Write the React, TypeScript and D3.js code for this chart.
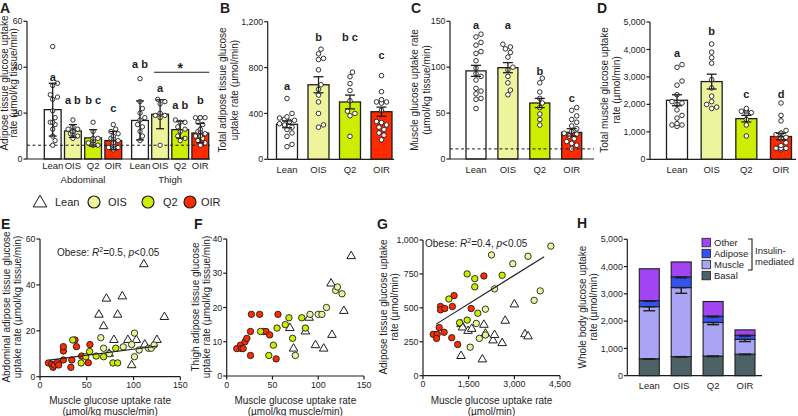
import React from "react";
import * as d3 from "d3";

const FONT = "'Liberation Sans', Arial, Helvetica, sans-serif";
const INK = "#1e1e1e";
const TICK_FS = 8.8;
const CAT_FS = 9.5;
const TITLE_FS = 10;
const groups = ["Lean", "OIS", "Q2", "OIR"];
const groupFill: Record<string, string> = { Lean: "#ffffff", OIS: "#eef49c", Q2: "#cdee00", OIR: "#ff2a00" };

// ---------- Panel A ----------
const aRegions = ["Abdominal", "Thigh"];
const aAbdMean = [21.5, 12.2, 9.2, 8.0];
const aAbdSD = [11.5, 2.8, 3.6, 4.0];
const aThighMean = [16.8, 19.5, 12.8, 11.3];
const aThighSD = [8.5, 6.3, 3.7, 4.2];
const aAbdPoints = [
  [49, 33, 32, 28, 27, 26, 21, 18, 16, 16, 15, 13, 10, 8, 6],
  [17, 14, 13, 13, 12, 12, 12, 11, 11, 10, 9],
  [16, 12, 9, 9, 8, 8, 7, 7, 6, 6],
  [15, 13, 12, 11, 10, 9, 9, 8, 7, 7, 6, 6, 5, 5, 5, 4],
];
const aThighPoints = [
  [35, 25, 22, 20, 18, 17, 15, 14, 12, 10, 8],
  [26, 25, 24, 20, 19, 19, 18, 6],
  [17, 16, 16, 14, 13, 12, 10, 9, 8],
  [18, 18, 18, 18, 16, 15, 13, 12, 12, 11, 10, 10, 9, 8, 7, 6],
];
const aAbdLetters = ["a", "a b", "b c", "c"];
const aAbdLetterAt = [35.5, 25.5, 25.5, 22];
const aThighLetters = ["a b", "a", "a b", "b"];
const aThighLetterAt = [41.5, 31, 23.5, 25.5];
const aBasal = 6;
const aStarAt = 40;
const aStarLineAt = 37.8;
const aTicks = [0, 20, 40, 60];

// ---------- Panel B ----------
const bMean = [305, 650, 500, 415];
const bSEM = [30, 70, 60, 40];
const bPoints = [
  [530, 400, 370, 360, 350, 340, 330, 310, 300, 280, 260, 230, 200, 130, 110],
  [960, 920, 880, 870, 780, 650, 610, 560, 500, 400, 300, 280],
  [760, 720, 660, 600, 510, 420, 400, 380, 200],
  [730, 590, 520, 500, 500, 490, 430, 330, 320, 300, 280, 260, 230, 210, 170],
];
const bLetters = ["a", "b", "b c", "c"];
const bLetterAt = [640, 1065, 1065, 905];
const bTicks = [0, 400, 800, 1200];

// ---------- Panel C ----------
const cMean = [96, 99.5, 61, 29];
const cSEM = [6, 5.5, 5, 4];
const cPoints = [
  [136, 133, 127, 124, 117, 115, 107, 99, 93, 90, 86, 77, 74, 71, 66, 65, 55],
  [125, 122, 120, 116, 111, 100, 97, 90, 83, 75, 70],
  [88, 83, 73, 66, 61, 56, 49, 43, 37],
  [56, 53, 47, 43, 40, 36, 33, 30, 28, 27, 25, 22, 19, 17, 15, 11],
];
const cLetters = ["a", "a", "b", "c"];
const cLetterAt = [146, 146, 96, 66];
const cBasal = 11;
const cTicks = [0, 50, 100, 150];

// ---------- Panel D ----------
const dMean = [2150, 2830, 1480, 830];
const dSEM = [200, 270, 120, 120];
const dPoints = [
  [3450, 3350, 2850, 2700, 2350, 2100, 2050, 2000, 1800, 1600, 1500, 1300, 1250, 1250, 1200],
  [4200, 3900, 3700, 3500, 2900, 2600, 2300, 2100, 2000, 1900, 1850],
  [1850, 1800, 1750, 1750, 1700, 1650, 1450, 1250, 850],
  [2050, 1600, 1400, 1050, 950, 950, 900, 800, 750, 600, 500, 400, 400, 400, 350],
];
const dLetters = ["a", "b", "c", "d"];
const dLetterAt = [3860, 4670, 2370, 2370];
const dTicks = [0, 1000, 2000, 3000, 4000, 5000];

// ---------- Panel E ----------
const eLean = [[111, 49], [88, 35], [71, 34], [63, 27], [83, 27], [68, 22], [133, 26], [79, 16], [94, 16], [103, 16], [112, 14], [125, 16], [98, 5], [74, 10]];
const eOIS = [[65, 17], [68, 12.4], [74, 10], [89, 13], [98, 14], [101, 19], [101, 8.7], [106, 11.6], [116, 12.4], [119, 12.4], [122, 13.8]];
const eQ2 = [[35, 16], [44, 6], [49, 8.7], [53, 11], [60, 9], [68, 8.7], [78, 6], [83, 6], [81, 12.4]];
const eOIR = [[9, 6], [12.5, 5.4], [14, 4.1], [15.3, 5.1], [18.5, 6.1], [20, 5.1], [25, 7.3], [25, 11.2], [25, 13.1], [33, 4.1], [34, 7.3], [37.4, 16], [39, 13.1], [44.5, 9], [51.6, 6.1], [53.4, 14]];
const eFit = { slope: 0.053, intercept: 6.7, from: 10, to: 126 };
const eXTicks = [0, 50, 100, 150];
const eYTicks = [0, 20, 40, 60];

// ---------- Panel F ----------
const fLean = [[136, 35], [114, 27], [128, 19], [90, 17], [69, 14], [86, 13], [73, 8], [97, 9], [106, 8], [115, 12]];
const fOIS = [[75, 6], [100, 18], [104, 18], [109, 20], [119, 25], [121, 26], [126, 24], [91, 18]];
const fQ2 = [[46, 6], [51, 9], [55, 14], [64, 15], [68, 17], [72, 11], [82, 17], [86, 14], [37, 13]];
const fOIR = [[11, 8], [15, 9], [16, 8], [18, 8], [20, 10], [22, 11], [26, 6], [26, 13], [27, 18], [36, 18], [40, 13], [43, 13], [47, 12], [54, 5], [56, 18]];
const fXTicks = [0, 50, 100, 150];
const fYTicks = [0, 10, 20, 30, 40];

// ---------- Panel G ----------
const gLean = [[1250, 145], [1250, 380], [1300, 355], [1480, 330], [1600, 345], [1950, 120], [2000, 375], [2050, 310], [2300, 260], [2350, 300], [2600, 240], [2700, 405], [3000, 525], [3350, 305], [3450, 290]];
const gOIS = [[2250, 890], [3450, 880], [4200, 955], [2950, 825], [2350, 640], [3850, 625], [3650, 555], [2050, 490], [1750, 385], [1850, 275], [2050, 300], [1550, 210]];
const gQ2 = [[2600, 740], [1450, 750], [1700, 715], [1700, 655], [850, 565], [1800, 460], [1200, 390], [1450, 410]];
const gOIR = [[336, 305], [466, 305], [445, 275], [531, 355], [575, 510], [575, 485], [716, 495], [694, 320], [965, 510], [1020, 590], [944, 280], [1139, 230], [1583, 495], [2000, 735]];
const gFit = { slope: 0.14, intercept: 320, from: 430, to: 3980 };
const gXTicks = [0, 1500, 3000, 4500];
const gYTicks = [0, 250, 500, 750, 1000];

// ---------- Panel H ----------
const hKeys = ["basal", "muscle", "adipose", "other"];
const hBasal = [620, 700, 720, 790];
const hMuscle = [1910, 2530, 1230, 540];
const hAdipose = [220, 390, 230, 150];
const hOther = [1170, 550, 540, 200];
const hBasalSEM = [20, 20, 20, 20];
const hMuscleSEM = [150, 210, 80, 80];
const hAdiposeSEM = [25, 35, 30, 30];
const hColors: Record<string, string> = { other: "#a145f2", adipose: "#3552f0", muscle: "#aaa4f4", basal: "#4d6266" };
const hLegend = [["other", "Other"], ["adipose", "Adipose"], ["muscle", "Muscle"], ["basal", "Basal"]];
const hTicks = [0, 1000, 2000, 3000, 4000, 5000];

const fmt = d3.format(",");

function beeswarm(vals: number[], y: (v: number) => number, r: number, maxOff: number) {
  const placed: { x: number; y: number }[] = [];
  const sorted = [...vals].sort((a, b) => a - b);
  const d = 2 * r + 0.4;
  for (const v of sorted) {
    const py = y(v);
    const cands = [0];
    for (let k = 1; k < 30; k++) cands.push(k * d * 0.5, -k * d * 0.5);
    let best = 0;
    for (const c of cands) {
      if (Math.abs(c) > maxOff) continue;
      if (placed.every((p) => Math.hypot(p.x - c, p.y - py) >= d)) { best = c; break; }
    }
    placed.push({ x: best, y: py });
  }
  return placed;
}

function YAxis({ x, y, ticks, fs = TICK_FS }: any) {
  const [r0, r1] = y.range();
  return (
    <g>
      <line x1={x} x2={x} y1={r0} y2={r1} stroke={INK} strokeWidth={1.2} />
      {ticks.map((t: number) => (
        <g key={t}>
          <line x1={x - 3.5} x2={x} y1={y(t)} y2={y(t)} stroke={INK} strokeWidth={1.2} />
          <text x={x - 4.5} y={y(t)} dy="0.35em" textAnchor="end" fontSize={fs} fill={INK}>{fmt(t)}</text>
        </g>
      ))}
    </g>
  );
}

function XAxis({ x, yPos, ticks, fs = TICK_FS }: any) {
  const [r0, r1] = x.range();
  return (
    <g>
      <line x1={r0} x2={r1} y1={yPos} y2={yPos} stroke={INK} strokeWidth={1.2} />
      {ticks.map((t: number) => (
        <g key={t}>
          <line x1={x(t)} x2={x(t)} y1={yPos} y2={yPos + 3.5} stroke={INK} strokeWidth={1.2} />
          <text x={x(t)} y={yPos + 11.5} textAnchor="middle" fontSize={fs} fill={INK}>{fmt(t)}</text>
        </g>
      ))}
    </g>
  );
}

function VTitle({ x, y, lines, gap = 11.5, fs = TITLE_FS }: any) {
  return (
    <text transform={`translate(${x},${y}) rotate(-90)`} textAnchor="middle" fontSize={fs} fill={INK}>
      {lines.map((l: string, i: number) => (
        <tspan key={i} x={0} dy={i === 0 ? 0 : gap}>{l}</tspan>
      ))}
    </text>
  );
}

function PanelLabel({ x, y, t }: any) {
  return <text x={x} y={y} fontSize={14} fontWeight="bold" fill={INK}>{t}</text>;
}

function ErrBar({ cx, y1, y2, cap }: any) {
  return (
    <g stroke={INK} strokeWidth={1.3}>
      <line x1={cx} x2={cx} y1={y1} y2={y2} />
      <line x1={cx - cap / 2} x2={cx + cap / 2} y1={y1} y2={y1} />
      <line x1={cx - cap / 2} x2={cx + cap / 2} y1={y2} y2={y2} />
    </g>
  );
}

function Bars({ xc, y, bw, means, errs, pts, r, letters, lat, cap }: any) {
  return (
    <g>
      {groups.map((g, i) => {
        const cx = xc(g);
        return (
          <rect key={"b" + g} x={cx - bw / 2} y={y(means[i])} width={bw} height={y(0) - y(means[i])}
            fill={groupFill[g]} stroke={INK} strokeWidth={1.3} />
        );
      })}
      {groups.map((g, i) => {
        const cx = xc(g);
        return (
          <g key={"p" + g}>
            {beeswarm(pts[i], y, r, bw / 2 - r + 0.5).map((p, j) => (
              <circle key={j} cx={cx + p.x} cy={p.y} r={r} fill="#fff" stroke={INK} strokeWidth={0.9} />
            ))}
          </g>
        );
      })}
      {groups.map((g, i) => (
        <ErrBar key={"e" + g} cx={xc(g)} y1={y(means[i] + errs[i])} y2={y(Math.max(0, means[i] - errs[i]))} cap={cap} />
      ))}
      {groups.map((g, i) => (
        <text key={"l" + g} x={xc(g)} y={y(lat[i])} dy="0.35em" textAnchor="middle" fontSize={11} fontWeight="bold" fill={INK}>
          {letters[i]}
        </text>
      ))}
    </g>
  );
}

function PanelA() {
  const y = d3.scaleLinear().domain([0, 60]).range([159, 21.3]);
  const x0 = 27, xEnd = 210;
  const xAbd = d3.scalePoint<string>().domain(groups).range([52.7, 113.3]);
  const xThigh = d3.scalePoint<string>().domain(groups).range([140, 200.3]);
  const sets = [
    { region: aRegions[0], xc: xAbd, mean: aAbdMean, sd: aAbdSD, pts: aAbdPoints, letters: aAbdLetters, lat: aAbdLetterAt },
    { region: aRegions[1], xc: xThigh, mean: aThighMean, sd: aThighSD, pts: aThighPoints, letters: aThighLetters, lat: aThighLetterAt },
  ];
  return (
    <g>
      <PanelLabel x={0} y={13} t="A" />
      <VTitle x={7.5} y={83} lines={["Adipose tissue glucose uptake", "rate (µmol/kg tissue/min)"]} gap={9.5} />
      {sets.map((s) => (
        <g key={s.region}>
          {groups.map((g, i) => (
            <rect key={g} x={s.xc(g)! - 8.4} y={y(s.mean[i])} width={16.8} height={y(0) - y(s.mean[i])}
              fill={groupFill[g]} stroke={INK} strokeWidth={1.3} />
          ))}
        </g>
      ))}
      <line x1={x0} x2={xEnd} y1={y(aBasal)} y2={y(aBasal)} stroke={INK} strokeWidth={1} strokeDasharray="3,2.5" />
      {sets.map((s) => (
        <g key={"pts" + s.region}>
          {groups.map((g, i) => (
            <g key={g}>
              {beeswarm(s.pts[i], y, 2.2, 6.3).map((p, j) => (
                <circle key={j} cx={s.xc(g)! + p.x} cy={p.y} r={2.2} fill="#fff" stroke={INK} strokeWidth={0.9} />
              ))}
            </g>
          ))}
          {groups.map((g, i) => (
            <ErrBar key={"e" + g} cx={s.xc(g)} y1={y(s.mean[i] + s.sd[i])} y2={y(s.mean[i] - s.sd[i])} cap={8} />
          ))}
          {groups.map((g, i) => (
            <text key={"l" + g} x={s.xc(g)} y={y(s.lat[i])} dy="0.35em" textAnchor="middle" fontSize={11} fontWeight="bold" fill={INK}>
              {s.letters[i]}
            </text>
          ))}
          {groups.map((g) => (
            <text key={"t" + g} x={s.xc(g)} y={168.5} textAnchor="middle" fontSize={CAT_FS} fill={INK}>{g}</text>
          ))}
          <text x={(s.xc.range()[0] + s.xc.range()[1]) / 2} y={183} textAnchor="middle" fontSize={CAT_FS} fill={INK}>{s.region}</text>
        </g>
      ))}
      <line x1={154} x2={209.3} y1={y(aStarLineAt)} y2={y(aStarLineAt)} stroke={INK} strokeWidth={1.2} />
      <text x={xThigh("Q2")} y={y(aStarAt) + 6} textAnchor="middle" fontSize={14} fontWeight="bold" fill={INK}>*</text>
      <line x1={x0} x2={xEnd} y1={y(0)} y2={y(0)} stroke={INK} strokeWidth={1.2} />
      <YAxis x={x0} y={y} ticks={aTicks} />
    </g>
  );
}

function BarPanel({ label, lx, x0, xEnd, yr, dom, ticks, cr, bw, means, errs, pts, letters, lat, title, tx, dash }: any) {
  const y = d3.scaleLinear().domain(dom).range(yr);
  const xc = d3.scalePoint<string>().domain(groups).range(cr);
  return (
    <g>
      <PanelLabel x={lx} y={13} t={label} />
      <VTitle x={tx} y={90} lines={title} />
      <Bars xc={xc} y={y} bw={bw} means={means} errs={errs} pts={pts} r={2.3} letters={letters} lat={lat} cap={10} />
      {dash != null && (
        <line x1={x0} x2={xEnd} y1={y(dash)} y2={y(dash)} stroke={INK} strokeWidth={1} strokeDasharray="3,2.5" />
      )}
      <line x1={x0} x2={xEnd} y1={y(0)} y2={y(0)} stroke={INK} strokeWidth={1.2} />
      <YAxis x={x0} y={y} ticks={ticks} />
      {groups.map((g) => (
        <text key={g} x={xc(g)} y={172.5} textAnchor="middle" fontSize={CAT_FS} fill={INK}>{g}</text>
      ))}
    </g>
  );
}

function Tri({ cx, cy, size }: any) {
  const p = d3.symbol().type(d3.symbolTriangle).size(size)();
  return <path d={p!} transform={`translate(${cx},${cy})`} fill="#fff" stroke={INK} strokeWidth={1} />;
}

function ScatterPanel({ label, lx, xr, yr, xd, yd, xticks, yticks, lean, ois, q2, oir, fit, title, tx, xtitle, note, noteX, noteY }: any) {
  const x = d3.scaleLinear().domain(xd).range(xr);
  const y = d3.scaleLinear().domain(yd).range(yr);
  const circles = (arr: number[][], fill: string) =>
    arr.map((d, i) => <circle key={fill + i} cx={x(d[0])} cy={y(d[1])} r={3.2} fill={fill} stroke={INK} strokeWidth={0.9} />);
  const midX = (xr[0] + xr[1]) / 2;
  return (
    <g>
      <PanelLabel x={lx} y={229} t={label} />
      <VTitle x={tx} y={307} lines={title} gap={11.5} />
      {lean.map((d: number[], i: number) => <Tri key={"t" + i} cx={x(d[0])} cy={y(d[1])} size={32} />)}
      {circles(oir, groupFill.OIR)}
      {circles(q2, groupFill.Q2)}
      {circles(ois, groupFill.OIS)}
      {fit && (
        <line x1={x(fit.from)} x2={x(fit.to)} y1={y(fit.intercept + fit.slope * fit.from)} y2={y(fit.intercept + fit.slope * fit.to)}
          stroke={INK} strokeWidth={1.1} />
      )}
      {note && (
        <text x={noteX} y={noteY} fontSize={TITLE_FS} fill={INK}>
          <tspan>Obese: </tspan>
          <tspan fontStyle="italic">R</tspan>
          <tspan fontSize={7} dy={-4}>2</tspan>
          <tspan dy={4}>{"=" + note + ", "}</tspan>
          <tspan fontStyle="italic">p</tspan>
          <tspan>{"<0.05"}</tspan>
        </text>
      )}
      <XAxis x={x} yPos={yr[0]} ticks={xticks} />
      <YAxis x={xr[0]} y={y} ticks={yticks} />
      <text x={midX} y={403.5} textAnchor="middle" fontSize={TITLE_FS} fill={INK}>{xtitle[0]}</text>
      <text x={midX} y={414.5} textAnchor="middle" fontSize={TITLE_FS} fill={INK}>{xtitle[1]}</text>
    </g>
  );
}

function PanelH() {
  const y = d3.scaleLinear().domain([0, 5000]).range([375.7, 239.3]);
  const xc = d3.scalePoint<string>().domain(groups).range([649.3, 745]);
  const rows = groups.map((g, i) => ({ g, basal: hBasal[i], muscle: hMuscle[i], adipose: hAdipose[i], other: hOther[i] }));
  const series = d3.stack<any>().keys(hKeys)(rows);
  const sems: Record<string, number[]> = { basal: hBasalSEM, muscle: hMuscleSEM, adipose: hAdiposeSEM };
  const bw = 20;
  const LFS = 9.5;
  return (
    <g>
      <PanelLabel x={577} y={228} t="H" />
      <VTitle x={585.5} y={307} lines={["Whole body glucose uptake", "rate (µmol/min)"]} gap={11.5} />
      {series.map((s) => (
        <g key={s.key}>
          {s.map((d, i) => (
            <rect key={i} x={xc(groups[i])! - bw / 2} y={y(d[1])} width={bw} height={y(d[0]) - y(d[1])}
              fill={hColors[s.key]} stroke={INK} strokeWidth={1.1} />
          ))}
        </g>
      ))}
      {series.filter((s) => sems[s.key]).map((s) => (
        <g key={"e" + s.key}>
          {s.map((d, i) => {
            const cx = xc(groups[i])!;
            const e = sems[s.key][i];
            return (
              <g key={i} stroke={INK} strokeWidth={1.4}>
                <line x1={cx - 6} x2={cx + 6} y1={y(d[1])} y2={y(d[1])} />
                <line x1={cx} x2={cx} y1={y(d[1])} y2={y(d[1] - e)} />
                <line x1={cx - 6} x2={cx + 6} y1={y(d[1] - e)} y2={y(d[1] - e)} />
              </g>
            );
          })}
        </g>
      ))}
      <line x1={627.3} x2={762} y1={y(0)} y2={y(0)} stroke={INK} strokeWidth={1.2} />
      <YAxis x={627.3} y={y} ticks={hTicks} />
      {groups.map((g) => (
        <text key={g} x={xc(g)} y={388.5} textAnchor="middle" fontSize={CAT_FS} fill={INK}>{g}</text>
      ))}
      {hLegend.map(([k, name], i) => (
        <g key={k}>
          <rect x={702} y={239.3 + i * 11 - 1} width={8.5} height={8.5} fill={hColors[k]} stroke={INK} strokeWidth={0.8} />
          <text x={714} y={239.3 + i * 11 + 6.5} fontSize={LFS} fill={INK}>{name}</text>
        </g>
      ))}
      <path d="M748,239 H752 V270 H748" fill="none" stroke={INK} strokeWidth={1.1} />
      <text x={755} y={254} fontSize={LFS} fill={INK}>Insulin-</text>
      <text x={755} y={265} fontSize={LFS} fill={INK}>mediated</text>
    </g>
  );
}

function GroupLegend() {
  const yL = 202;
  const fs = 11;
  return (
    <g>
      <Tri cx={40} cy={yL + 1} size={80} />
      <text x={55} y={yL + 4} fontSize={fs} fill={INK}>Lean</text>
      <circle cx={94} cy={yL} r={6} fill={groupFill.OIS} stroke={INK} strokeWidth={1.2} />
      <text x={108} y={yL + 4} fontSize={fs} fill={INK}>OIS</text>
      <circle cx={148} cy={yL} r={6} fill={groupFill.Q2} stroke={INK} strokeWidth={1.2} />
      <text x={163} y={yL + 4} fontSize={fs} fill={INK}>Q2</text>
      <circle cx={190} cy={yL} r={6} fill={groupFill.OIR} stroke={INK} strokeWidth={1.2} />
      <text x={201} y={yL + 4} fontSize={fs} fill={INK}>OIR</text>
    </g>
  );
}

export default function App() {
  return (
    <svg width={798} height={416} style={{ position: "absolute", left: 0, top: 0, background: "#fff" }} fontFamily={FONT}>
      <rect width={798} height={416} fill="#fff" />
      <PanelA />
      <BarPanel label="B" lx={220} x0={267.7} xEnd={394} yr={[159.3, 21.7]} dom={[0, 1200]} ticks={bTicks}
        cr={[287, 381.5]} bw={21} means={bMean} errs={bSEM} pts={bPoints} letters={bLetters} lat={bLetterAt}
        title={["Total adipose tissue glucose", "uptake rate (µmol/min)"]} tx={226} />
      <BarPanel label="C" lx={411} x0={450} xEnd={594} yr={[159, 21.3]} dom={[0, 150]} ticks={cTicks}
        cr={[476, 571.7]} bw={20} means={cMean} errs={cSEM} pts={cPoints} letters={cLetters} lat={cLetterAt}
        title={["Muscle glucose uptake rate", "(µmol/kg tissue/min)"]} tx={418} dash={cBasal} />
      <BarPanel label="D" lx={597} x0={650} xEnd={796} yr={[159.3, 22]} dom={[0, 5000]} ticks={dTicks}
        cr={[677, 781]} bw={21} means={dMean} errs={dSEM} pts={dPoints} letters={dLetters} lat={dLetterAt}
        title={["Total muscle glucose uptake", "rate (µmol/min)"]} tx={608} />
      <GroupLegend />
      <ScatterPanel label="E" lx={1} xr={[40, 180.3]} yr={[376.7, 239]} xd={[0, 150]} yd={[0, 60]}
        xticks={eXTicks} yticks={eYTicks} lean={eLean} ois={eOIS} q2={eQ2} oir={eOIR} fit={eFit}
        title={["Abdominal adipose tissue glucose", "uptake rate (µmol/kg tissue/min)"]} tx={9.5}
        xtitle={["Muscle glucose uptake rate", "(µmol/kg muscle/min)"]} note="0.5" noteX={57} noteY={255.5} />
      <ScatterPanel label="F" lx={194} xr={[226.7, 364]} yr={[376, 239]} xd={[0, 150]} yd={[0, 40]}
        xticks={fXTicks} yticks={fYTicks} lean={fLean} ois={fOIS} q2={fQ2} oir={fOIR}
        title={["Thigh adipose tissue glucose", "uptake rate (µmol/kg tissue/min)"]} tx={198.5}
        xtitle={["Muscle glucose uptake rate", "(µmol/kg muscle/min)"]} />
      <ScatterPanel label="G" lx={377} xr={[423, 560]} yr={[375.7, 240]} xd={[0, 4500]} yd={[0, 1000]}
        xticks={gXTicks} yticks={gYTicks} lean={gLean} ois={gOIS} q2={gQ2} oir={gOIR} fit={gFit}
        title={["Adipose tissue glucose uptake", "rate (µmol/min)"]} tx={386.5}
        xtitle={["Muscle glucose uptake rate", "(µmol/min)"]} note="0.4" noteX={425} noteY={247} />
      <PanelH />
    </svg>
  );
}
